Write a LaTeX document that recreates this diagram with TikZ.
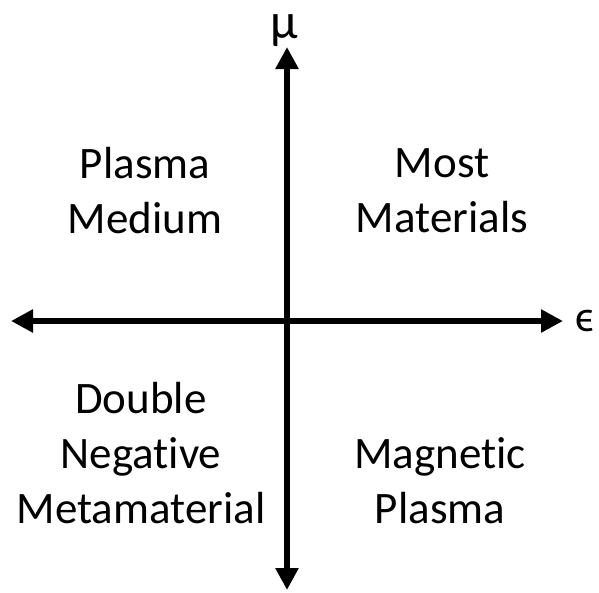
\documentclass[tikz,border=0pt]{standalone}
\usepackage{fontspec}
\setmainfont[Ligatures=CommonOff]{Carlito}
\usetikzlibrary{arrows.meta}
\begin{document}
\begin{tikzpicture}[x=1pt,y=-1pt,
  axis/.style={line width=6.5pt,{Triangle[width=22pt,length=22pt]}-{Triangle[width=22pt,length=22pt]}},
  lbl/.style={font=\fontsize{45}{55}\selectfont,align=center,inner sep=0pt},
  sym/.style={inner sep=0pt}]
\useasboundingbox (0,0) rectangle (599,592);
\coordinate (top) at (287,47);
\coordinate (bot) at (287,590);
\coordinate (lft) at (11,321);
\coordinate (rgt) at (563,321);
\draw[axis] (bot) -- (top);
\draw[axis] (lft) -- (rgt);
\node[sym,anchor=base,font=\fontsize{50}{58}\selectfont] (mu) at (284,38) {μ};
\node[sym,font=\fontsize{44}{50}\selectfont] (eps) at (585,321) {ϵ};
\node[lbl] (pm) at (145,191) {Plasma\\Medium};
\node[lbl] (mm) at (442,191) {Most\\Materials};
\node[lbl] (dn) at (141,453) {Double\\Negative\\Metamaterial};
\node[lbl] (mp) at (440,481) {Magnetic\\Plasma};
\end{tikzpicture}
\end{document}
